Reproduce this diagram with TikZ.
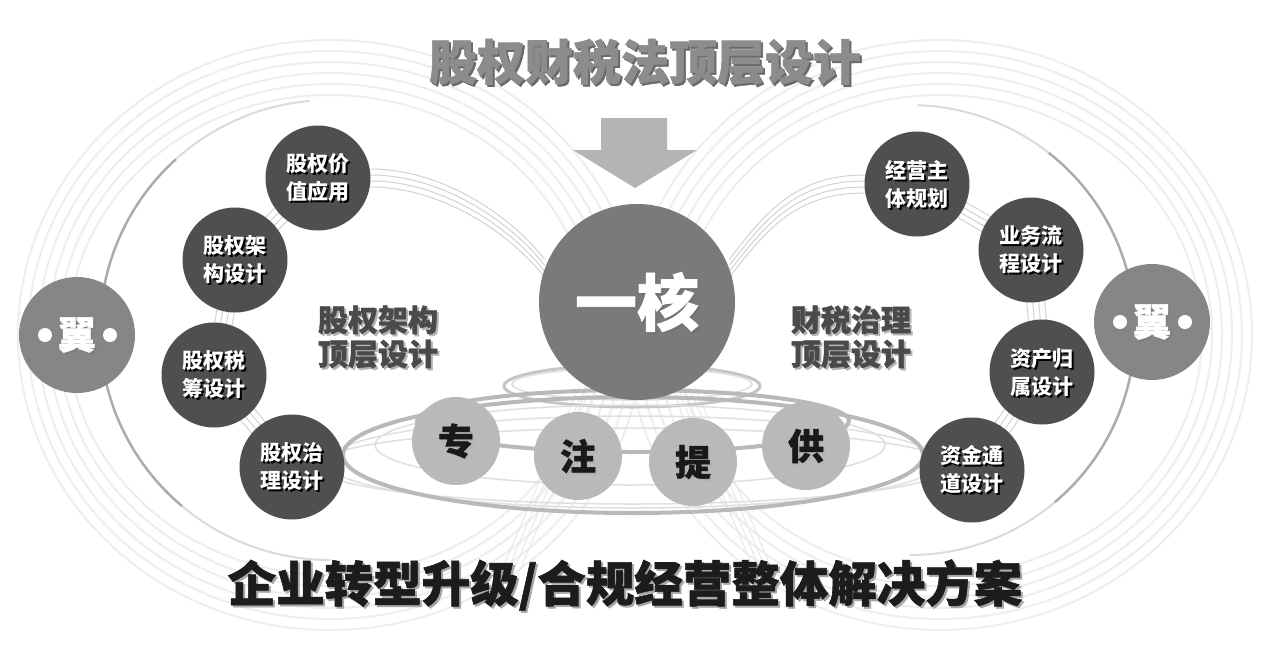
\documentclass[tikz,border=0pt]{standalone}
\usepackage{fontspec}
\newfontfamily\cjk{Noto Sans CJK SC}
\newfontfamily\cjkheavy{Noto Sans CJK SC}[BoldFeatures={FakeBold=1.2}]
\pgfdeclarelayer{back}
\pgfdeclarelayer{bg}
\pgfsetlayers{back,bg,main}
\definecolor{titlec}{HTML}{8C8C8C}
\definecolor{titlesh}{HTML}{6A6A6A}
\definecolor{arrowc}{HTML}{B4B4B4}
\definecolor{corec}{HTML}{7A7A7A}
\definecolor{darkc}{HTML}{4F4F51}
\definecolor{wingc}{HTML}{868686}
\definecolor{smallc}{HTML}{B9B9B9}
\definecolor{labelc}{HTML}{4A4A4A}
\definecolor{botc}{HTML}{1C1C1C}
\tikzset{
  coreball/.style={circle, fill=corec, minimum size=196pt, inner sep=0pt},
  darkball/.style={circle, fill=darkc, minimum size=105pt, inner sep=0pt},
  wingball/.style={circle, fill=wingc, minimum size=116pt, inner sep=0pt},
  smallball/.style={circle, fill=smallc, minimum size=88pt, inner sep=0pt},
  titletxt/.style={text=titlec, inner sep=0pt, font=\cjkheavy\bfseries\fontsize{48}{50}\selectfont},
  bottxt/.style={text=botc, inner sep=0pt, font=\cjkheavy\bfseries\fontsize{48.5}{50}\selectfont},
  coretxt/.style={text=white, inner sep=0pt, font=\cjkheavy\bfseries\fontsize{62}{64}\selectfont},
  darktxt/.style={text=white, inner sep=0pt, align=center, font=\cjk\bfseries\fontsize{21}{28}\selectfont},
  labtxt/.style={text=labelc, inner sep=0pt, align=center, font=\cjkheavy\bfseries\fontsize{30}{34}\selectfont},
  smalltxt/.style={text=black!90, inner sep=0pt, font=\cjkheavy\bfseries\fontsize{36}{38}\selectfont},
  wingtxt/.style={text=white, inner sep=0pt, font=\cjkheavy\bfseries\fontsize{38}{40}\selectfont},
  loopline/.style={draw=gray!13, line width=2pt},
  darkarc/.style={draw=gray!65, line width=2.5pt},
  fadearc/.style={draw=gray!28, line width=2pt},
  bundle/.style={draw=gray!35, line width=1pt},
  faintb/.style={draw=gray!18, line width=1pt},
  ringline/.style={draw=gray!55, line width=4pt},
  thinring/.style={draw=gray!25, line width=1.5pt},
}
\newcommand\shtxt[5]{%
  \node[#3, text=#4, xshift=2pt, yshift=-2pt] (#1s) at (#2) {#5};
  \node[#3] (#1) at (#2) {#5};}
\begin{document}
\begin{tikzpicture}[x=1pt,y=-1pt]
\begin{pgfonlayer}{back}
\fill[white] (0,0) rectangle (1269,649);
\end{pgfonlayer}
\useasboundingbox (0,0) rectangle (1269,649);

% ---- nodes (main layer)
\node[coreball] (core) at (637,302) {};
\node[darkball] (l1) at (318,178) {};
\node[darkball] (l2) at (235,260) {};
\node[darkball] (l3) at (214,375) {};
\node[darkball] (l4) at (292,467) {};
\node[darkball] (r1) at (917,184) {};
\node[darkball] (r2) at (1031,250) {};
\node[darkball] (r3) at (1042,372) {};
\node[darkball] (r4) at (972,470) {};
\node[wingball] (lw) at (77,335) {};
\node[wingball] (rw) at (1152,322) {};
\node[smallball] (s1) at (456,441) {};
\node[smallball] (s2) at (578,456) {};
\node[smallball] (s3) at (693,462) {};
\node[smallball] (s4) at (806,446) {};

% ---- background layer
\begin{pgfonlayer}{bg}
  % faint big loops
  \foreach \rx/\ry in {312/295,302/284,292/273,282/262,272/251,262/240}{
    \draw[loopline] (330,335) ellipse [x radius=\rx, y radius=\ry];
    \draw[loopline] (940,335) ellipse [x radius=\rx, y radius=\ry];
  }
  % darker arcs through the wings (circle arcs)
  \coordinate (lc) at (330,330);
  \coordinate (rc) at (910,330);
  \draw[darkarc] ([shift={(-132:230)}]lc) arc[start angle=-132, end angle=-230, radius=230];
  \draw[fadearc] ([shift={(-132:230)}]lc) arc[start angle=-132, end angle=-95, radius=230];
  \draw[fadearc] ([shift={(130:230)}]lc) arc[start angle=130, end angle=90, radius=230];
  \draw[darkarc] ([shift={(-52:225)}]rc) arc[start angle=-52, end angle=50, radius=225];
  \draw[fadearc] ([shift={(-52:225)}]rc) arc[start angle=-52, end angle=-88, radius=225];
  \draw[fadearc] ([shift={(50:225)}]rc) arc[start angle=50, end angle=90, radius=225];
  % bundles
  \foreach \d in {-9,-3,3,9}{
    \draw[bundle] ([yshift=\d pt]l1.east) .. controls +(70,0) and +(-35,-45) .. ([yshift=\d pt]core.160);
    \draw[bundle] ([yshift=\d pt]core.20) .. controls +(35,-45) and +(-70,0) .. ([yshift=\d pt]r1.west);
    \draw[bundle] ([xshift=0.7*\d pt, yshift=-0.7*\d pt]l1.center) -- ([xshift=0.7*\d pt, yshift=-0.7*\d pt]l2.center);
    \draw[bundle] ([xshift=\d pt]l2.center) -- ([xshift=\d pt]l3.center);
    \draw[bundle] ([xshift=0.7*\d pt, yshift=0.7*\d pt]l3.center) -- ([xshift=0.7*\d pt, yshift=0.7*\d pt]l4.center);
    \draw[bundle] ([xshift=0.7*\d pt, yshift=0.7*\d pt]r1.center) -- ([xshift=0.7*\d pt, yshift=0.7*\d pt]r2.center);
    \draw[bundle] ([xshift=\d pt]r2.center) -- ([xshift=\d pt]r3.center);
    \draw[bundle] ([xshift=0.7*\d pt, yshift=-0.7*\d pt]r3.center) -- ([xshift=0.7*\d pt, yshift=-0.7*\d pt]r4.center);
    \draw[faintb] ([xshift=\d pt]core.300) -- ++(80,190);
    \draw[faintb] ([xshift=\d pt]core.240) -- ++(-80,190);
  }
  % rings and ellipses of the base
  \draw[ringline, draw=gray!45, line width=3pt] (632,386) ellipse [x radius=128, y radius=21];
  \draw[thinring] (632,384) ellipse [x radius=120, y radius=16];
  \draw[thinring] (633,462) ellipse [x radius=306, y radius=46];
  \draw[thinring] (633,466) ellipse [x radius=318, y radius=38];
  \draw[thinring] (630,445) ellipse [x radius=255, y radius=40];
  \draw[ringline] (633,421) ellipse [x radius=216, y radius=31];
  \draw[ringline] (633,455) ellipse [x radius=290, y radius=58];
\end{pgfonlayer}

% ---- arrow
\fill[arrowc] (601,118) -- (667,118) -- (667,150) -- (697,150) -- (635,188) -- (573,150) -- (601,150) -- cycle;

% ---- texts
\shtxt{title}{645,62}{titletxt}{titlesh}{股权财税法顶层设计}
\shtxt{bottom}{625,585}{bottxt}{gray!70}{企业转型升级/合规经营整体解决方案}
\shtxt{coret}{core}{coretxt}{black!55}{一核}
\shtxt{lab1}{378,337}{labtxt}{gray!60}{股权架构\\顶层设计}
\shtxt{lab2}{851,337}{labtxt}{gray!60}{财税治理\\顶层设计}
\shtxt{l1t}{l1}{darktxt}{black}{股权价\\值应用}
\shtxt{l2t}{l2}{darktxt}{black}{股权架\\构设计}
\shtxt{l3t}{l3}{darktxt}{black}{股权税\\筹设计}
\shtxt{l4t}{l4}{darktxt}{black}{股权治\\理设计}
\shtxt{r1t}{r1}{darktxt}{black}{经营主\\体规划}
\shtxt{r2t}{r2}{darktxt}{black}{业务流\\程设计}
\shtxt{r3t}{r3}{darktxt}{black}{资产归\\属设计}
\shtxt{r4t}{r4}{darktxt}{black}{资金通\\道设计}
\shtxt{s1t}{s1}{smalltxt}{gray!60}{专}
\shtxt{s2t}{s2}{smalltxt}{gray!60}{注}
\shtxt{s3t}{s3}{smalltxt}{gray!60}{提}
\shtxt{s4t}{s4}{smalltxt}{gray!60}{供}
\shtxt{lwt}{lw}{wingtxt}{black!50}{翼}
\shtxt{rwt}{rw}{wingtxt}{black!50}{翼}
\fill[white] ([xshift=-32pt]lw.center) circle (7);
\fill[white] ([xshift=33pt]lw.center) circle (7);
\fill[white] ([xshift=-32pt]rw.center) circle (7);
\fill[white] ([xshift=33pt]rw.center) circle (7);
\end{tikzpicture}
\end{document}
